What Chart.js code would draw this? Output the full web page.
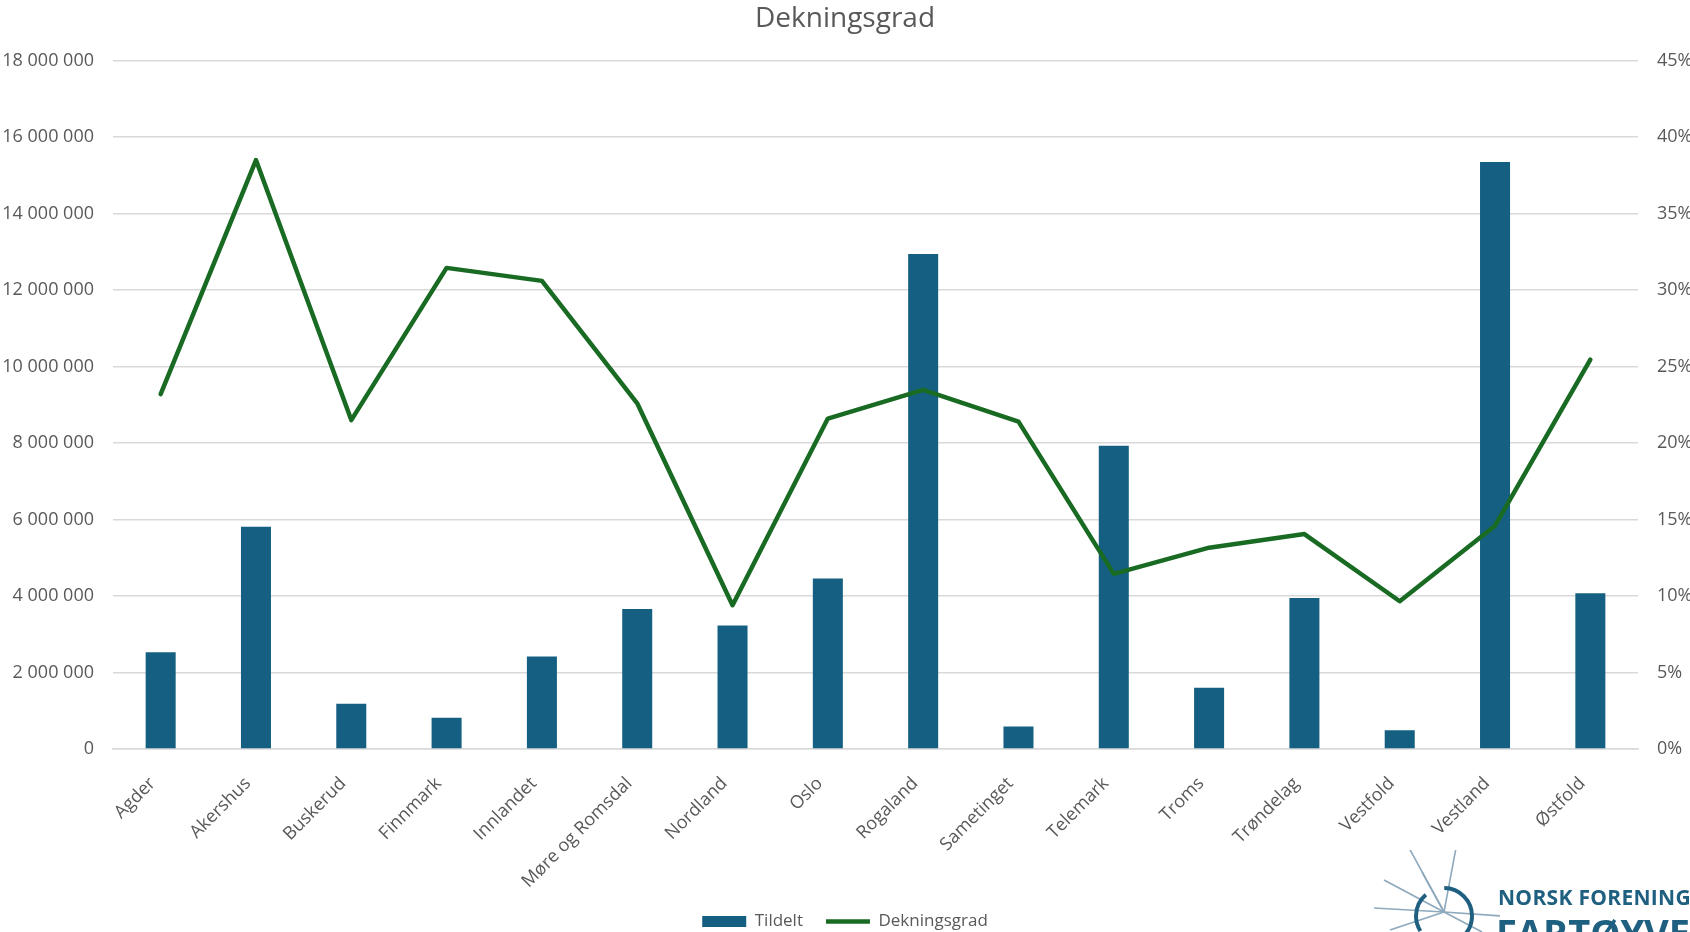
<!DOCTYPE html>
<html>
<head>
<meta charset="utf-8">
<script src="https://cdn.jsdelivr.net/npm/chart.js@4/dist/chart.umd.min.js"></script>
<style>
  html, body { margin: 0; padding: 0; background: #fff; overflow: hidden; }
  #wrap { position: relative; width: 1690px; height: 932px; overflow: hidden; }
  #logo { position: absolute; left: 1360px; top: 850px; width: 330px; height: 82px; overflow: hidden; }
  #logo .t1 { position: absolute; left: 138px; top: 33px; font: bold 21px "Open Sans", sans-serif; color: #1f5f80; letter-spacing: 0.3px; white-space: nowrap; }
  #logo .t2 { position: absolute; left: 136px; top: 56px; font: bold 38px "Open Sans", sans-serif; color: #1f5f80; white-space: nowrap; }
</style>
</head>
<body>
<div id="wrap">
  <canvas id="c" width="1690" height="932"></canvas>
  <div id="logo">
    <svg width="140" height="82" style="position:absolute;left:0;top:0">
      <g stroke="#8ea9bd" stroke-width="1.6">
        <line x1="84" y1="62" x2="48" y2="-4"/>
        <line x1="84" y1="62" x2="62" y2="22"/>
        <line x1="84" y1="62" x2="96" y2="-2"/>
        <line x1="84" y1="62" x2="24" y2="30"/>
        <line x1="84" y1="62" x2="14" y2="58"/>
        <line x1="84" y1="62" x2="30" y2="80"/>
        <line x1="84" y1="62" x2="142" y2="66"/>
        <line x1="84" y1="62" x2="122" y2="82"/>
      </g>
      <circle cx="84" cy="66" r="28" fill="none" stroke="#1f5f80" stroke-width="4" stroke-dasharray="60 12 40 20"/>
    </svg>
    <div class="t1">NORSK FORENING</div>
    <div class="t2">FARTØYVERN</div>
  </div>
</div>
<script>
const categories = ["Agder", "Akershus", "Buskerud", "Finnmark", "Innlandet", "Møre og Romsdal", "Nordland", "Oslo", "Rogaland", "Sametinget", "Telemark", "Troms", "Trøndelag", "Vestfold", "Vestland", "Østfold"];
const tildelt = [2530000, 5810000, 1180000, 820000, 2420000, 3660000, 3230000, 4460000, 12940000, 590000, 7930000, 1600000, 3950000, 490000, 15350000, 4070000];
const dekningsgrad = [0.232, 0.385, 0.215, 0.3145, 0.306, 0.226, 0.094, 0.216, 0.2347, 0.214, 0.1145, 0.1316, 0.1405, 0.0966, 0.146, 0.2545];
const leftTicks = { min: 0, max: 18000000, step: 2000000 };
const rightTicks = { min: 0, max: 0.45, step: 0.05 };

const FONT = '"Open Sans", "Liberation Sans", sans-serif';
const TXT = '#595959';
const fmt = v => String(Math.round(v)).replace(/\B(?=(\d{3})+(?!\d))/g, ' ');

const legendFix = {
  id: 'legendFix',
  beforeLayout(chart) {
    const lg = chart.legend;
    if (lg && !lg._patched) {
      const orig = lg.fit;
      lg.fit = function () { orig.call(this); this.height = 42; };
      lg._patched = true;
    }
  }
};

new Chart(document.getElementById('c'), {
  data: {
    labels: categories,
    datasets: [
      {
        type: 'bar', label: 'Tildelt', data: tildelt, yAxisID: 'y',
        backgroundColor: '#156082', borderWidth: 0, order: 1,
        categoryPercentage: 1.0, barPercentage: 0.315, pointStyle: 'rect'
      },
      {
        type: 'line', label: 'Dekningsgrad', data: dekningsgrad, yAxisID: 'y1',
        borderColor: '#196B24', backgroundColor: '#196B24', borderWidth: 4.5,
        pointRadius: 0, tension: 0, order: 0, pointStyle: 'line',
        borderCapStyle: 'round', borderJoinStyle: 'round'
      }
    ]
  },
  plugins: [legendFix],
  options: {
    responsive: false, animation: false, devicePixelRatio: 1,
    layout: { padding: { left: 0, right: 0, top: 0, bottom: 0 } },
    plugins: {
      title: { display: true, text: 'Dekningsgrad', color: TXT, font: { family: FONT, size: 28, weight: 'normal' }, padding: { top: 2, bottom: 25 } },
      legend: {
        position: 'bottom',
        labels: {
          color: TXT, font: { family: FONT, size: 17 }, usePointStyle: true,
          pointStyleWidth: 44, boxHeight: 11, padding: 23,
          sort: (a, b) => a.datasetIndex - b.datasetIndex
        }
      },
      tooltip: { enabled: false }
    },
    scales: {
      x: {
        grid: { display: false, drawTicks: false },
        border: { display: true, color: '#D9D9D9', width: 1.5 },
        ticks: { color: TXT, font: { family: FONT, size: 18 }, maxRotation: 45, minRotation: 45, padding: 24, labelOffset: -8, autoSkip: false },
        afterFit: s => { s.height = 141; }
      },
      y: {
        position: 'left', min: leftTicks.min, max: leftTicks.max,
        grid: { color: '#D9D9D9', lineWidth: 1.5, drawTicks: false },
        border: { display: false },
        ticks: { stepSize: leftTicks.step, color: TXT, font: { family: FONT, size: 18 }, padding: 19, callback: v => fmt(v) },
        afterFit: s => { s.width = 113; }
      },
      y1: {
        position: 'right', min: rightTicks.min, max: rightTicks.max,
        grid: { display: false, drawTicks: false },
        border: { display: false },
        ticks: { stepSize: rightTicks.step, color: TXT, font: { family: FONT, size: 18 }, padding: 19, callback: v => Math.round(v * 100) + '%' },
        afterFit: s => { s.width = 52; }
      }
    }
  }
});
</script>
</body>
</html>
